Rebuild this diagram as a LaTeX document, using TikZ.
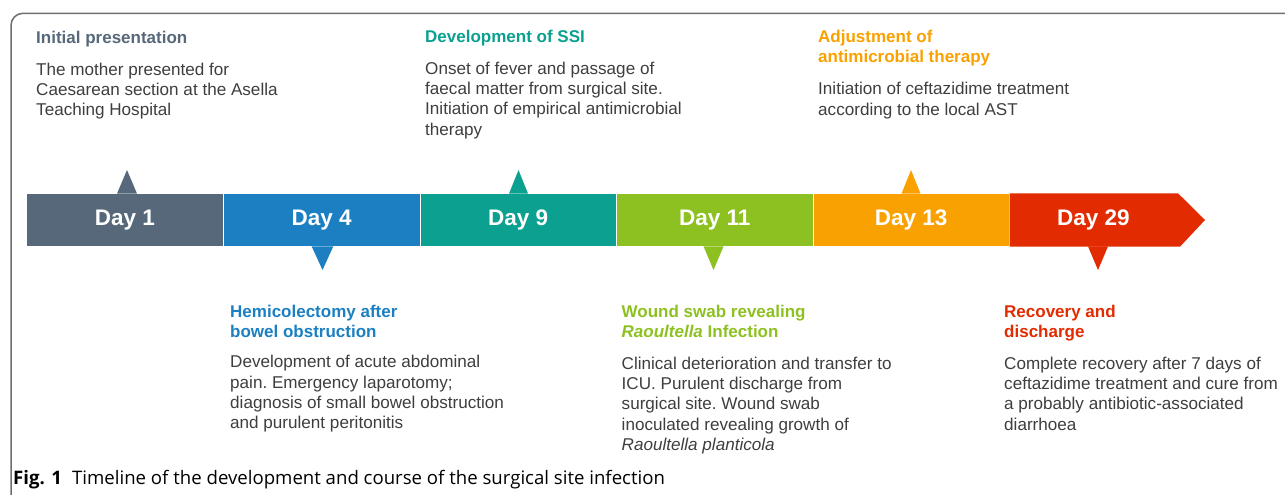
\documentclass[tikz,border=0pt]{standalone}
\usepackage{fontspec}
\setmainfont{Liberation Sans}
\newfontfamily\capfont{Open Sans}
\definecolor{cslate}{HTML}{56687A}
\definecolor{cblue}{HTML}{1B7FC2}
\definecolor{cteal}{HTML}{0BA08F}
\definecolor{cgreen}{HTML}{8DC021}
\definecolor{corange}{HTML}{F9A100}
\definecolor{cred}{HTML}{E22B00}
\definecolor{ctext}{HTML}{3E3E3E}
\definecolor{cframe}{HTML}{6E6E6E}
\tikzset{
  seg/.style={rectangle, minimum width=196.5pt, minimum height=53.4pt, inner sep=0pt, outer sep=0pt, draw=white, line width=0.6pt, text=white, font=\fontsize{22.5}{26}\selectfont\bfseries},
  daytext/.style={inner sep=0pt, text=white, font=\fontsize{22.5}{26}\selectfont\bfseries},
  ttl/.style={anchor=north west, inner sep=0pt, align=left, font=\frenchspacing\fontsize{17}{20.2}\selectfont\bfseries},
  body/.style={anchor=north west, inner sep=0pt, align=left, text=ctext, font=\frenchspacing\fontsize{17.1}{20.4}\selectfont},
}
\begin{document}
\begin{tikzpicture}[x=1pt,y=-1pt]
\useasboundingbox (0,0) rectangle (1285,495);
% frame
\draw[cframe, line width=1.5pt, rounded corners=12pt] (11,495) -- (11,13.3) -- (1285,13.3);
% segments
\node[seg, fill=cslate] (d1) at (125,220) {Day 1};
\node[seg, fill=cblue] (d4) at (321.6,220) {Day 4};
\node[seg, fill=cteal] (d9) at (518.2,220) {Day 9};
\node[seg, fill=cgreen] (d11) at (714.8,220) {Day 11};
\node[seg, fill=corange] (d13) at (911.2,220) {Day 13};
\fill[cred] (1009.5,193.3) -- (1178,193.3) -- (1205,220) -- (1180,246.7) -- (1009.5,246.7) -- cycle;
\node[daytext] (d29) at (1093.5,220) {Day 29};
% markers
\fill[cslate] (117,193.6) -- (127,170) -- (137,193.6) -- cycle;
\fill[cteal] (509,193.6) -- (518.5,170) -- (528,193.6) -- cycle;
\fill[corange] (901.5,193.6) -- (911,170) -- (920.5,193.6) -- cycle;
\fill[cblue] (311.7,246.4) -- (322.5,270) -- (333.3,246.4) -- cycle;
\fill[cgreen] (703.5,246.4) -- (713.5,270) -- (723.5,246.4) -- cycle;
\fill[cred] (1088,246.4) -- (1098,270) -- (1108,246.4) -- cycle;
% top texts
\node[ttl, text=cslate] (t1) at (36,30.6) {Initial presentation};
\node[body] (b1) at (36,62.6) {The mother presented for\\Caesarean section at the Asella\\Teaching Hospital};
\node[ttl, text=cteal] (t9) at (425,29.6) {Development of SSI};
\node[body] (b9) at (425,61.6) {Onset of fever and passage of\\faecal matter from surgical site.\\Initiation of empirical antimicrobial\\therapy};
\node[ttl, text=corange] (t13) at (818,29.6) {Adjustment of\\antimicrobial therapy};
\node[body] (b13) at (818,82.1) {Initiation of ceftazidime treatment\\according to the local AST};
% bottom texts
\node[ttl, text=cblue] (t4) at (230,305.1) {Hemicolectomy after\\bowel obstruction};
\node[body] (b4) at (230,355.1) {Development of acute abdominal\\pain. Emergency laparotomy;\\diagnosis of small bowel obstruction\\and purulent peritonitis};
\node[ttl, text=cgreen] (t11) at (621.5,305.1) {Wound swab revealing\\\textit{Raoultella} Infection};
\node[body] (b11) at (621.5,356.6) {Clinical deterioration and transfer to\\ICU. Purulent discharge from\\surgical site. Wound swab\\inoculated revealing growth of\\\textit{Raoultella planticola}};
\node[ttl, text=cred] (t29) at (1004,305.1) {Recovery and\\discharge};
\node[body] (b29) at (1004,356.6) {Complete recovery after 7 days of\\ceftazidime treatment and cure from\\a probably antibiotic-associated\\diarrhoea};
% caption
\node[anchor=base west, inner sep=0pt, font=\capfont\fontsize{18.6}{21}\selectfont, text=black] (cap) at (13,484) {\textbf{Fig. 1}\hspace{0.55em}Timeline of the development and course of the surgical site infection};
\end{tikzpicture}
\end{document}
